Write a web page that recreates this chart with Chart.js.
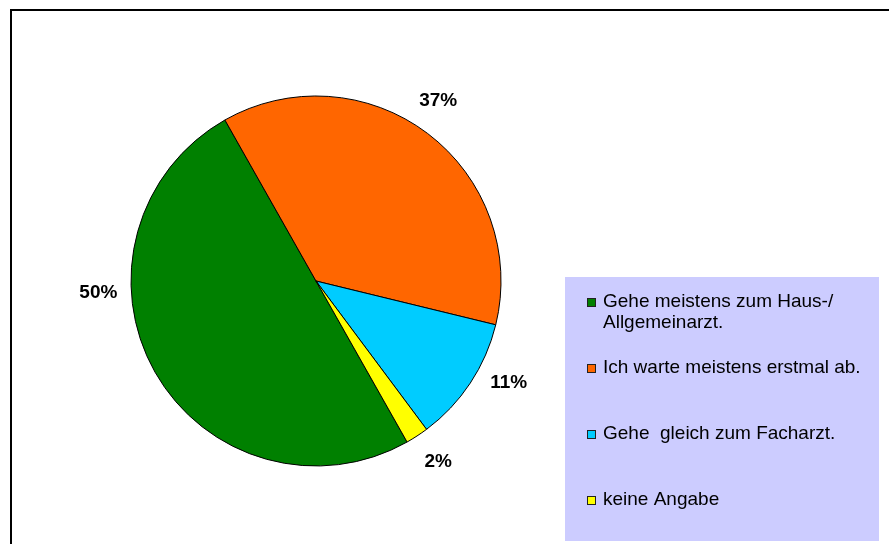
<!DOCTYPE html>
<html lang="de">
<head>
    <meta charset="UTF-8">
    <title>Arztbesuch</title>
    <script src="https://cdn.jsdelivr.net/npm/chart.js"></script>
    <style>
        html, body { margin: 0; padding: 0; background: white; }
        .pie-wrap { width: 889px; height: 544px; position: relative; }
    </style>
</head>
<body>
    <div class="pie-wrap">
        <canvas id="pieChart"></canvas>
    </div>
    <script>
        // Antworten und Anteile in Prozent
        const antworten = [
            ["Gehe meistens zum Haus-/", "Allgemeinarzt."],
            "Ich warte meistens erstmal ab.",
            "Gehe  gleich zum Facharzt.",
            "keine Angabe"
        ];
        const anteile = [50, 37, 11, 2];
        const farben = ["#008000", "#ff6600", "#00ccff", "#ffff00"];

        const FONT = '"Liberation Sans", Arial, sans-serif';

        // Rahmen um die ganze Grafik
        const rahmen = {
            id: "rahmen",
            beforeDraw(chart) {
                const ctx = chart.ctx;
                ctx.save();
                ctx.fillStyle = "white";
                ctx.fillRect(0, 0, chart.width, chart.height);
                ctx.strokeStyle = "black";
                ctx.lineWidth = 2;
                ctx.strokeRect(11, 10, chart.width + 20, chart.height + 20);
                ctx.restore();
            }
        };

        // Prozentwerte außen an den Stücken
        const prozente = {
            id: "prozente",
            afterDatasetsDraw(chart, args, opts) {
                const ctx = chart.ctx;
                const arcs = chart.getDatasetMeta(0).data;
                ctx.save();
                ctx.font = "bold 19px " + FONT;
                ctx.fillStyle = "black";
                ctx.textAlign = "center";
                ctx.textBaseline = "middle";
                arcs.forEach((arc, i) => {
                    const shift = (opts.shift[i] || 0) * Math.PI / 180;
                    const a = (arc.startAngle + arc.endAngle) / 2 + shift;
                    const d = arc.outerRadius + opts.abstand;
                    const x = arc.x + Math.cos(a) * d;
                    const y = arc.y + Math.sin(a) * d;
                    ctx.fillText(anteile[i] + "%", x, y);
                });
                ctx.restore();
            }
        };

        // Legende im lila Kasten rechts unten
        const legende = {
            id: "legende",
            afterDraw(chart, args, opts) {
                const ctx = chart.ctx;
                const ds = chart.data.datasets[0];
                ctx.save();
                ctx.fillStyle = "#ccccff";
                ctx.fillRect(opts.x, opts.y, opts.w, opts.h);
                ctx.font = "19px " + FONT;
                ctx.textBaseline = "alphabetic";
                ctx.textAlign = "left";
                chart.data.labels.forEach((lab, i) => {
                    const base = opts.y + opts.first + i * opts.step;
                    ctx.fillStyle = ds.backgroundColor[i];
                    ctx.fillRect(opts.x + 22.5, base - 8.5, 8, 8);
                    ctx.strokeStyle = "#222";
                    ctx.lineWidth = 1;
                    ctx.strokeRect(opts.x + 22.5, base - 8.5, 8, 8);
                    ctx.fillStyle = "black";
                    const lines = Array.isArray(lab) ? lab : [lab];
                    lines.forEach((t, j) => ctx.fillText(t, opts.x + 38, base + j * 21));
                });
                ctx.restore();
            }
        };

        new Chart(document.getElementById("pieChart"), {
            type: "pie",
            data: {
                labels: antworten,
                datasets: [{
                    data: anteile,
                    backgroundColor: farben,
                    borderColor: "#000",
                    borderWidth: 1
                }]
            },
            options: {
                responsive: true,
                maintainAspectRatio: false,
                animation: false,
                rotation: 150.5,
                radius: 185,
                layout: { padding: { left: 0, right: 257, top: 18, bottom: 0 } },
                plugins: {
                    legend: { display: false },
                    tooltip: { enabled: false },
                    prozente: { abstand: 33, shift: [26.3, -3, -5.6, -1] },
                    legende: { x: 565, y: 277, w: 314, h: 264, first: 30, step: 66 }
                }
            },
            plugins: [rahmen, prozente, legende]
        });
    </script>
</body>
</html>
